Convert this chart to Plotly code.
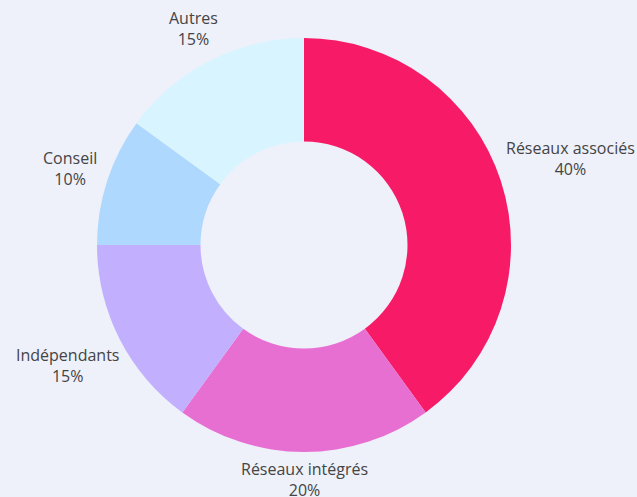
import math
import plotly.graph_objects as go

labels = ["Réseaux associés", "Réseaux intégrés", "Indépendants", "Conseil", "Autres"]
values = [40, 20, 15, 10, 15]
colors = ["#F71B67", "#E86FD2", "#C2B0FF", "#AFD8FF", "#D8F5FF"]

W, H = 637, 497
CX, CY, R = 304, 245, 207   # pie centre / radius in pixels (layout)
GAP = 7                     # gap between the ring and the label boxes
FONT_SIZE = 16
CHAR_W = 7.9                # approximate average glyph width at FONT_SIZE
BLOCK_H = 40                # approximate height of a two-line label
TEXT_COLOR = "#444444"
FONT = "Open Sans"

fig = go.Figure(go.Pie(
    labels=labels,
    values=values,
    hole=0.5,
    sort=False,
    direction="clockwise",
    rotation=0,
    marker=dict(colors=colors, line=dict(width=0)),
    textinfo="none",
    hoverinfo="label+percent",
    showlegend=False,
    domain=dict(x=[(CX - R) / W, (CX + R) / W], y=[1 - (CY + R) / H, 1 - (CY - R) / H]),
))

total = sum(values)
cum = 0
annotations = []
for lab, v in zip(labels, values):
    mid = (cum + v / 2) / total * 2 * math.pi
    cum += v
    sx, sy = math.sin(mid), -math.cos(mid)
    pct = round(v / total * 100)
    text_lines = [lab, f"{pct}%"]
    bw = CHAR_W * max(len(t) for t in text_lines)
    half_ext = abs(bw / 2 * sx) + abs(BLOCK_H / 2 * sy)
    dist = R + GAP + half_ext
    px = CX + dist * sx
    py = CY + dist * sy
    annotations.append(dict(
        x=px / W, y=1 - py / H, xref="paper", yref="paper",
        text="<br>".join(text_lines), showarrow=False,
        xanchor="center", yanchor="middle", align="center",
        borderpad=0, borderwidth=0,
        font=dict(family=FONT, size=FONT_SIZE, color=TEXT_COLOR),
    ))

fig.update_layout(
    width=W, height=H,
    margin=dict(l=0, r=0, t=0, b=0),
    paper_bgcolor="#EEF0FA",
    plot_bgcolor="#EEF0FA",
    font=dict(family=FONT, color=TEXT_COLOR),
    annotations=annotations,
)
fig.write_html(
    "out.html",
    config={"displayModeBar": False},
    post_script="document.body.style.margin='0';document.body.style.padding='0';"
                "document.body.style.overflow='hidden';",
)
